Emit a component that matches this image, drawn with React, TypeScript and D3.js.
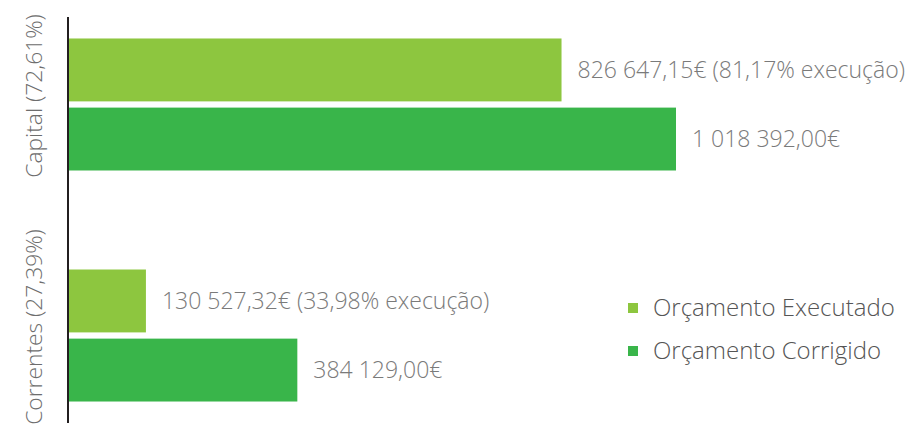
import React from "react";
import * as d3 from "d3";

const categories = ["Capital (72,61%)", "Correntes (27,39%)"];
const seriesNames = ["Orçamento Executado", "Orçamento Corrigido"];
const executado = [826647.15, 130527.32];
const corrigido = [1018392.0, 384129.0];
const labelsExecutado = ["826 647,15€ (81,17% execução)", "130 527,32€ (33,98% execução)"];
const labelsCorrigido = ["1 018 392,00€", "384 129,00€"];
const colors = ["#8DC63F", "#39B54A"];

const W = 910;
const H = 426;
const FONT = "'Open Sans', 'DejaVu Sans', sans-serif";

export default function App() {
  const x = d3.scaleLinear().domain([0, 1018392]).range([68, 676]);
  const y0 = d3
    .scaleBand<string>()
    .domain(categories)
    .range([17, 423])
    .paddingInner(0.4286)
    .paddingOuter(0.093);
  const y1 = d3
    .scaleBand<string>()
    .domain(seriesNames)
    .range([0, y0.bandwidth()])
    .paddingInner(0.09);

  const series = [executado, corrigido];
  const labels = [labelsExecutado, labelsCorrigido];

  return (
    <svg
      width={W}
      height={H}
      style={{ position: "absolute", left: 0, top: 0, background: "#fff" }}
      fontFamily={FONT}
    >
      {categories.map((cat, ci) => (
        <g key={cat} transform={`translate(0,${y0(cat)})`}>
          {seriesNames.map((s, si) => (
            <g key={s}>
              <rect
                x={x(0)}
                y={y1(s)}
                width={x(series[si][ci]) - x(0)}
                height={y1.bandwidth()}
                fill={colors[si]}
              />
              <text
                x={x(series[si][ci]) + 16}
                y={(y1(s) as number) + y1.bandwidth() / 2}
                dy="0.35em"
                fontSize={23}
                fontWeight={300}
                fill="#7a7a7a"
              >
                {labels[si][ci]}
              </text>
            </g>
          ))}
        </g>
      ))}
      {categories.map((cat) => {
        const cy = (y0(cat) as number) + y0.bandwidth() / 2 - 8.5;
        return (
          <text
            key={cat}
            transform={`translate(42,${cy}) rotate(-90)`}
            textAnchor="middle"
            fontSize={22.8}
            fontWeight={300}
            fill="#6d6d6d"
          >
            {cat}
          </text>
        );
      })}
      <line x1={68} x2={68} y1={17} y2={423} stroke="#231f20" strokeWidth={2} />
      {seriesNames.map((s, i) => (
        <g key={s} transform={`translate(628,${303 + i * 43})`}>
          <rect x={0} y={0} width={10} height={10} fill={colors[i]} />
          <text x={25} y={13} fontSize={24} fontWeight={300} fill="#555">
            {s}
          </text>
        </g>
      ))}
    </svg>
  );
}
